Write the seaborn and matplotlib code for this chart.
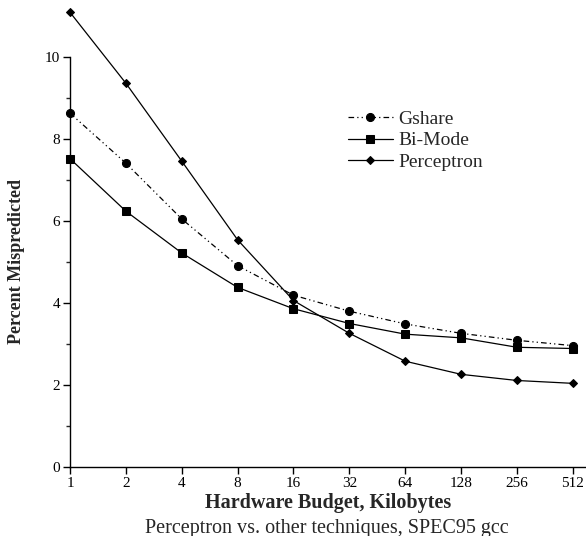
import numpy as np
import pandas as pd
import matplotlib
matplotlib.use("Agg")
import matplotlib.pyplot as plt
import seaborn as sns
from matplotlib.ticker import FixedLocator, NullFormatter

budgets = [1, 2, 4, 8, 16, 32, 64, 128, 256, 512]
tick_labels = ["1", "2", "4", "8", "16", "32", "64", "128", "256", "512"]
gshare = [8.63, 7.41, 6.05, 4.91, 4.19, 3.80, 3.49, 3.26, 3.09, 2.96]
bimode = [7.52, 6.24, 5.22, 4.38, 3.86, 3.50, 3.24, 3.15, 2.92, 2.89]
perceptron = [11.09, 9.36, 7.46, 5.54, 4.06, 3.26, 2.58, 2.26, 2.11, 2.04]

sns.set_style("ticks")
plt.rcParams['font.family'] = ['Liberation Serif', 'DejaVu Serif']

fig = plt.figure(figsize=(5.86, 5.36), dpi=100)
ax = fig.add_axes([70/586, 1-467/536, 1-70/586, (467-57)/536])

df = pd.DataFrame({"budget": budgets, "Gshare": gshare, "Bi-Mode": bimode, "Perceptron": perceptron})

styles = {
    "Gshare": dict(marker="o", markersize=5.8, dashes=(4.5, 2.5, 1.0, 2.5, 1.0, 2.5)),
    "Bi-Mode": dict(marker="s", markersize=5.6, dashes=None),
    "Perceptron": dict(marker="D", markersize=3.8, dashes=None),
}
for name in ["Gshare", "Bi-Mode", "Perceptron"]:
    st = styles[name]
    sns.lineplot(data=df, x="budget", y=name, ax=ax, color="black", linewidth=0.9,
                 marker=st["marker"], markersize=st["markersize"],
                 markeredgecolor="black", markerfacecolor="black",
                 label=name, clip_on=False)
    l = ax.get_lines()[-1]
    if st["dashes"]:
        l.set_dashes(st["dashes"])

ax.set_xscale("log", base=2)
ax.set_xlim(1, 2 ** 9.235)
ax.set_ylim(0, 10)
ax.xaxis.set_major_locator(FixedLocator(budgets))
ax.set_xticklabels(tick_labels)
ax.xaxis.set_minor_locator(FixedLocator([]))
ax.yaxis.set_major_locator(FixedLocator([0, 2, 4, 6, 8, 10]))
ax.yaxis.set_minor_locator(FixedLocator([1, 3, 5, 7, 9]))
ax.yaxis.set_minor_formatter(NullFormatter())

for s in ["top", "right"]:
    ax.spines[s].set_visible(False)
for s in ["left", "bottom"]:
    ax.spines[s].set_linewidth(1.0)
    ax.spines[s].set_color("black")

ax.tick_params(axis="both", which="major", direction="out", length=5, width=1.0,
               labelsize=11, colors="black", pad=2)
ax.tick_params(axis="y", which="minor", direction="out", length=3, width=1.0)

ax.set_xlabel("Hardware Budget, Kilobytes", fontsize=14.5, fontweight="bold", va="center")
ax.xaxis.set_label_coords(0.5, -0.088)
ax.set_ylabel("Percent Mispredicted", fontsize=13, fontweight="bold")
ax.yaxis.set_label_coords(-0.087, 0.5)

fig.text(327/586, 1-528/536, "Perceptron vs. other techniques, SPEC95 gcc",
         ha="center", va="center", fontsize=14.5)

leg = ax.legend(loc="upper left", bbox_to_anchor=(0.539, 0.871), frameon=False, fontsize=14,
                handlelength=2.3, handletextpad=0.3, labelspacing=0.22,
                borderaxespad=0, borderpad=0)

fig.savefig("out.png", dpi=100)
